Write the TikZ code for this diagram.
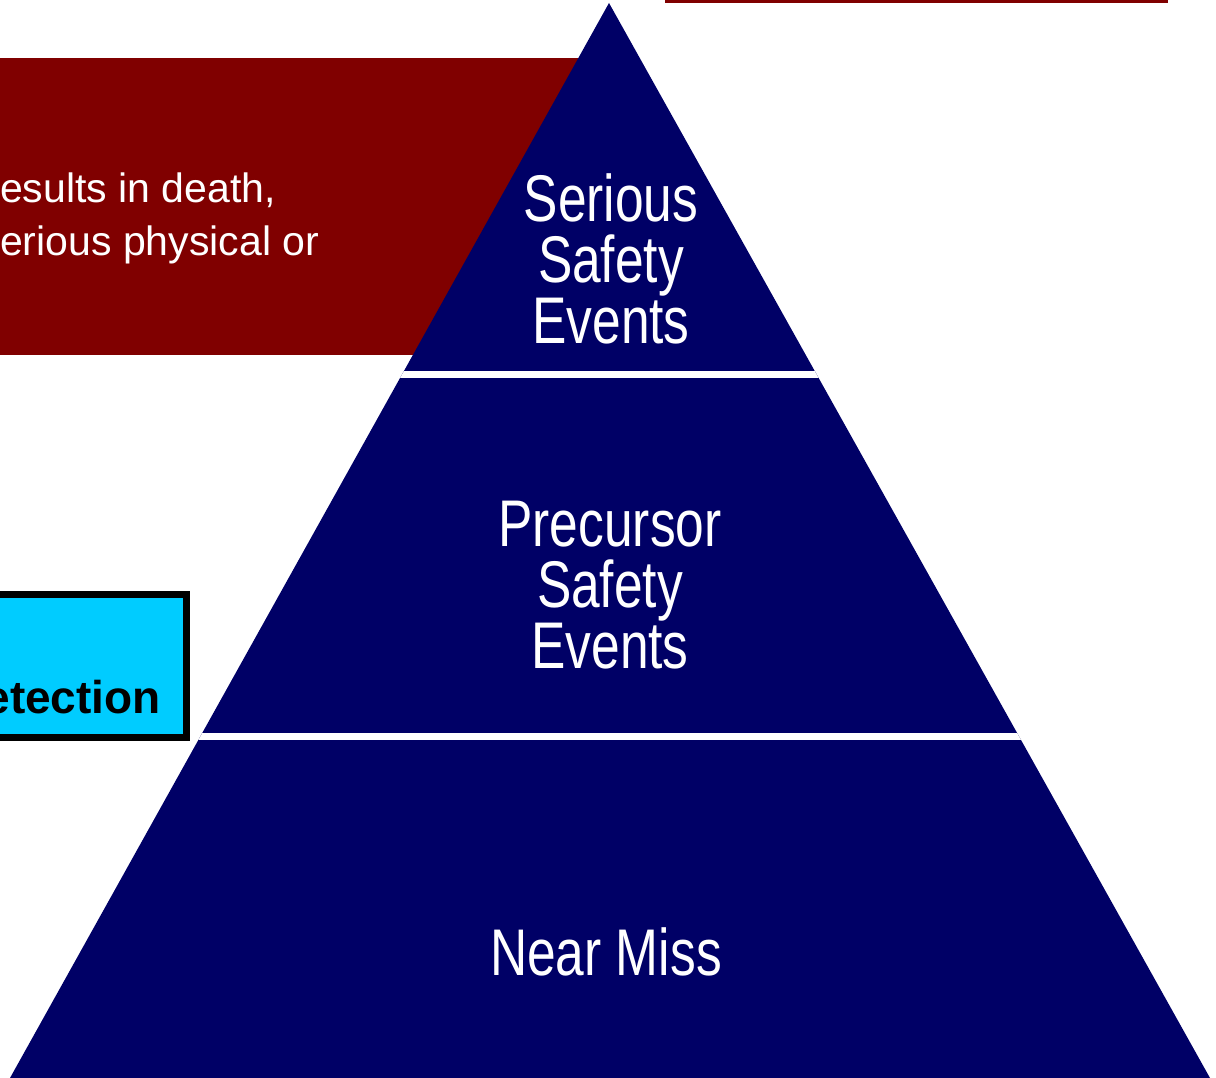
\documentclass[tikz,border=0pt]{standalone}
\usepackage{fontspec}
\setmainfont{Liberation Sans}
\newfontfamily\narrowsans[FakeStretch=0.78]{Liberation Sans}
\definecolor{navy}{HTML}{000066}
\definecolor{maroon}{HTML}{800000}
\definecolor{skycyan}{HTML}{00CCFF}
\tikzset{
  tierlabel/.style={text=white, font=\narrowsans\fontsize{66}{61}\selectfont, align=center, inner sep=0pt},
  notetext/.style={text=white, font=\fontsize{41}{53}\selectfont, inner sep=0pt, anchor=base west},
}
\begin{document}
\begin{tikzpicture}[x=1pt, y=-1pt]
  \useasboundingbox (0,0) rectangle (1216,1078);
  % thin rule along the top edge
  \fill[maroon] (665,0) rectangle (1168,3);
  % maroon definition panel behind the apex
  \fill[maroon] (0,58) rectangle (600,355);
  \node[notetext] (line1) at (0,203) {esults in death,};
  \node[notetext] (line2) at (0,256) {erious physical or};
  % cyan tag box
  \fill[skycyan] (-10,594) rectangle (186,737);
  \draw[line width=7pt] (-10,594) rectangle (186,737);
  \node[anchor=base east, inner sep=0pt, font=\bfseries\fontsize{46}{46}\selectfont] (tag) at (161,713) {etection};
  % pyramid
  \fill[navy] (609,3) -- (1210,1078) -- (10,1078) -- cycle;
  \begin{scope}
    \clip (609,3) -- (1210,1078) -- (10,1078) -- cycle;
    \fill[white] (150,370.5) rectangle (1100,377.5);
    \fill[white] (150,733) rectangle (1100,740);
  \end{scope}
  \node[tierlabel, anchor=base] (top) at (611,343) {Serious\\Safety\\Events};
  \node[tierlabel, anchor=base] (mid) at (610,668) {Precursor\\Safety\\Events};
  \node[tierlabel, anchor=base] (base) at (606,975) {Near Miss};
\end{tikzpicture}
\end{document}
